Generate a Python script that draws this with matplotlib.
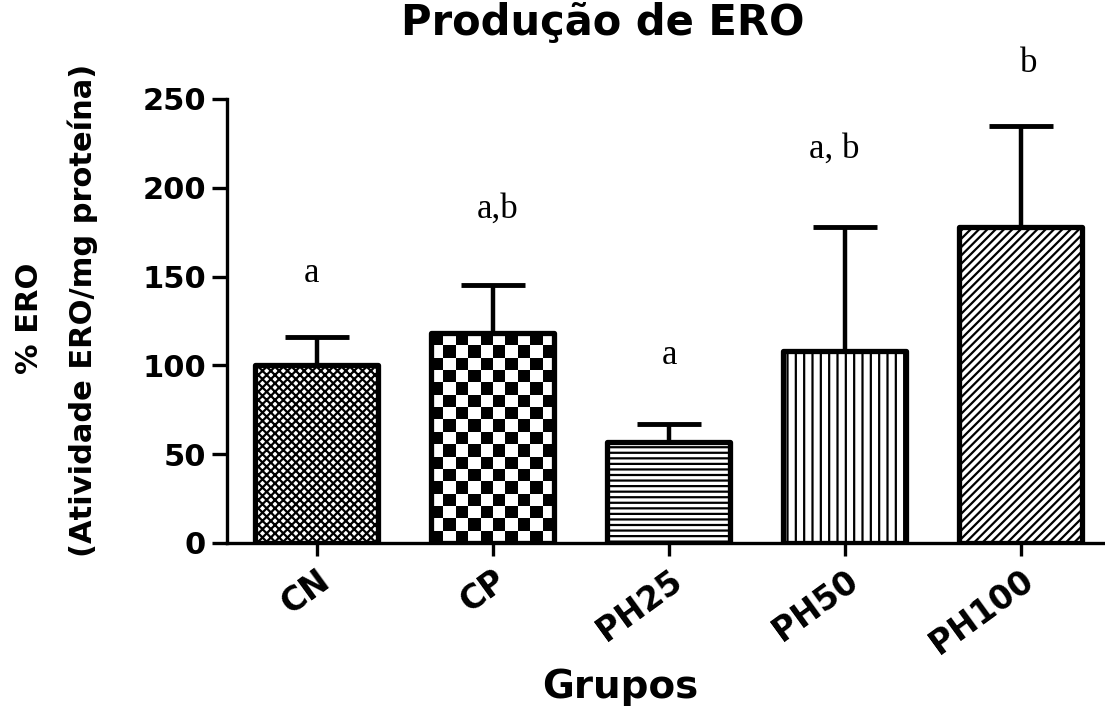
import numpy as np
import matplotlib
matplotlib.use("Agg")
import matplotlib.pyplot as plt
from matplotlib.transforms import offset_copy

# Produção de ERO por grupo (média + erro superior)
grupos = ["CN", "CP", "PH25", "PH50", "PH100"]
media = [100, 118, 57, 108, 178]
erro = [16, 27, 10, 70, 57]
letras = ["a", "a,b", "a", "a, b", "b"]
letra_y = [147, 183, 101, 217, 265]
letra_dx = [-5, 5, 1, -10, 8]  # pequeno deslocamento horizontal, em pixels

hachuras = ["xxxx", None, "---", "||", "////"]

plt.rcParams["hatch.linewidth"] = 1.6
plt.rcParams["font.family"] = ["DejaVu Sans"]
plt.rcParams["font.weight"] = "bold"

fig = plt.figure(figsize=(11.05, 7.09), dpi=100)
ax = fig.add_axes([227 / 1105, 1 - 543 / 709, 878 / 1105, 444 / 709])

x = np.arange(len(grupos))
ax.errorbar(x, media, yerr=[np.zeros(len(erro)), erro], fmt="none",
            ecolor="black", elinewidth=3.2, capsize=23, capthick=3.5,
            zorder=1)

barras = ax.bar(x, media, width=0.7, color="white", edgecolor="black",
                linewidth=3.8, zorder=3)
for b, h in zip(barras, hachuras):
    b.set_joinstyle("round")
    if h:
        b.set_hatch(h)

ax.set_xlim(-0.51, 4.48)
ax.set_ylim(0, 250)

# xadrez do grupo CP, recortado pelo contorno da barra
bcp = barras[1]
bcp.set_facecolor("none")
x0, w, hgt = bcp.get_x(), bcp.get_width(), bcp.get_height()
p0 = ax.transData.transform((x0, 0))
p1 = ax.transData.transform((x0 + w, hgt))
ncol = 10
nrow = int(round(ncol * (p1[1] - p0[1]) / (p1[0] - p0[0])))
tab = (np.add.outer(np.arange(nrow), np.arange(ncol)) % 2).astype(float)
im = ax.imshow(tab, extent=(x0, x0 + w, 0, hgt), cmap="gray",
               interpolation="nearest", aspect="auto", zorder=2)
im.set_clip_path(bcp)
ax.set_xlim(-0.51, 4.48)
ax.set_ylim(0, 250)

for s in ["top", "right"]:
    ax.spines[s].set_visible(False)
for s in ["left", "bottom"]:
    ax.spines[s].set_linewidth(2.4)

ax.set_yticks([0, 50, 100, 150, 200, 250])
ax.tick_params(axis="y", length=11, width=2.4, labelsize=22, pad=4)
ax.tick_params(axis="x", length=9, width=2.4, labelsize=23.5, pad=6)
ax.set_xticks(x)
ax.set_xticklabels(grupos, rotation=36, ha="right", va="top",
                   rotation_mode="anchor", fontweight="bold")

for xi, txt, yl, dx in zip(x, letras, letra_y, letra_dx):
    tr = offset_copy(ax.transData, fig=fig, x=dx, y=0, units="dots")
    ax.text(xi, yl, txt, transform=tr, ha="center", va="baseline",
            fontsize=25, fontweight="normal", family="Liberation Serif",
            clip_on=False)

fig.text(603 / 1105, 1 - 23 / 709, "Produção de ERO", ha="center",
         va="center", fontsize=30, fontweight="bold")
fig.text(620 / 1105, 1 - 687 / 709, "Grupos", ha="center", va="center",
         fontsize=28, fontweight="bold")
fig.text(29 / 1105, 1 - 318 / 709, "% ERO", rotation=90, ha="center",
         va="center", fontsize=22, fontweight="bold")
fig.text(83 / 1105, 1 - 310 / 709, "(Atividade ERO/mg proteína)",
         rotation=90, ha="center", va="center", fontsize=22,
         fontweight="bold")

fig.savefig("out.png", dpi=100)
